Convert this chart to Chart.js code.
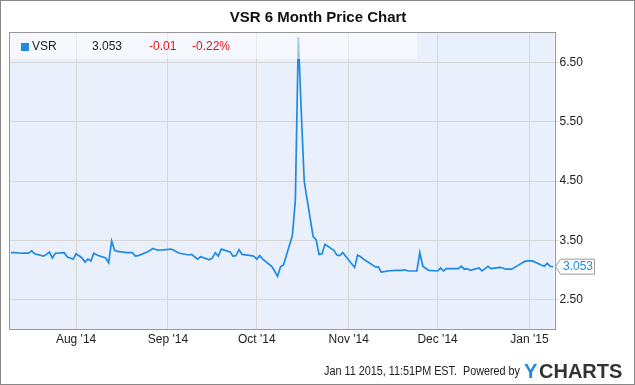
<!DOCTYPE html>
<html>
<head>
<meta charset="utf-8">
<script src="https://cdn.jsdelivr.net/npm/chart.js@4.4.1/dist/chart.umd.min.js"></script>
<style>
  html, body { margin: 0; padding: 0; background: #fff; }
  #wrap { width: 635px; height: 385px; }
</style>
</head>
<body>
<div id="wrap"><canvas id="vsrChart" width="635" height="385"></canvas></div>
<script>
// daily closes
const dates = [
  '2014-07-10','2014-07-11','2014-07-14','2014-07-15','2014-07-16','2014-07-17','2014-07-18',
  '2014-07-21','2014-07-22','2014-07-23','2014-07-24','2014-07-25','2014-07-28','2014-07-29',
  '2014-07-30','2014-07-31','2014-08-01','2014-08-03','2014-08-04','2014-08-05','2014-08-06',
  '2014-08-07','2014-08-08','2014-08-11','2014-08-12','2014-08-13','2014-08-14','2014-08-15',
  '2014-08-18','2014-08-19','2014-08-20','2014-08-21','2014-08-22','2014-08-25','2014-08-26',
  '2014-08-27','2014-08-28','2014-08-29','2014-09-02','2014-09-03','2014-09-04','2014-09-05',
  '2014-09-08','2014-09-09','2014-09-10','2014-09-11','2014-09-12','2014-09-15','2014-09-16',
  '2014-09-17','2014-09-18','2014-09-19','2014-09-22','2014-09-23','2014-09-24','2014-09-25',
  '2014-09-26','2014-09-29','2014-09-30','2014-10-01','2014-10-02','2014-10-03','2014-10-06',
  '2014-10-07','2014-10-08','2014-10-09','2014-10-10','2014-10-13','2014-10-14','2014-10-15',
  '2014-10-16','2014-10-17','2014-10-20','2014-10-21','2014-10-22','2014-10-23','2014-10-24',
  '2014-10-27','2014-10-28','2014-10-29','2014-10-30','2014-10-31','2014-11-03','2014-11-04',
  '2014-11-05','2014-11-06','2014-11-07','2014-11-10','2014-11-11','2014-11-12','2014-11-13',
  '2014-11-14','2014-11-17','2014-11-18','2014-11-19','2014-11-20','2014-11-21','2014-11-24',
  '2014-11-25','2014-11-26','2014-11-28','2014-12-01','2014-12-02','2014-12-03','2014-12-04',
  '2014-12-05','2014-12-08','2014-12-09','2014-12-10','2014-12-11','2014-12-12','2014-12-15',
  '2014-12-16','2014-12-17','2014-12-18','2014-12-19','2014-12-22','2014-12-23','2014-12-24',
  '2014-12-26','2014-12-29','2014-12-30','2014-12-31','2015-01-02','2015-01-05','2015-01-06',
  '2015-01-07','2015-01-08','2015-01-09'
];
const prices = [
  3.29, 3.29, 3.28, 3.28, 3.28, 3.32, 3.27,
  3.23, 3.26, 3.30, 3.20, 3.28, 3.29, 3.22,
  3.20, 3.18, 3.27, 3.20, 3.13, 3.18, 3.15,
  3.28, 3.25, 3.20, 3.12, 3.49, 3.33, 3.31,
  3.29, 3.29, 3.29, 3.23, 3.24, 3.30, 3.33,
  3.36, 3.34, 3.33, 3.35, 3.33, 3.30, 3.28,
  3.25, 3.26, 3.22, 3.18, 3.22, 3.17, 3.20,
  3.29, 3.23, 3.35, 3.30, 3.23, 3.24, 3.34,
  3.26, 3.24, 3.23, 3.18, 3.24, 3.18, 3.06,
  2.98, 2.89, 3.05, 3.08, 3.58, 4.18, 6.93,
  5.67, 4.49, 3.56, 3.51, 3.26, 3.27, 3.43,
  3.33, 3.25, 3.24, 3.29, 3.23, 3.04, 3.25,
  3.22, 3.18, 3.15, 3.05, 3.05, 2.96, 2.97,
  2.98, 2.99, 2.99, 2.99, 3.00, 2.98, 2.98,
  3.29, 3.06, 2.99, 2.98, 3.03, 2.98, 3.02,
  3.02, 3.02, 3.06, 3.01, 3.02, 2.99, 3.03,
  2.98, 3.02, 3.06, 3.02, 3.04, 3.03, 3.01,
  3.01, 3.10, 3.13, 3.15, 3.15, 3.08, 3.06,
  3.11, 3.06, 3.053
];
const monthTicks = ['2014-08-01','2014-09-01','2014-10-01','2014-11-01','2014-12-01','2015-01-01'];
const monthLabels = ["Aug '14", "Sep '14", "Oct '14", "Nov '14", "Dec '14", "Jan '15"];
const priceTicks = [2.5, 3.5, 4.5, 5.5, 6.5];
const lastPrice = '3.053';
const change = '-0.01';
const changePct = '-0.22%';

const FONT = '"Liberation Sans", Arial, sans-serif';
const BLUE = '#1c8ae6';
const day = s => Date.parse(s) / 86400000;

const points = dates.map((d, i) => ({ x: day(d), y: prices[i] }));

const decor = {
  id: 'decor',
  beforeDraw(chart) {
    const { ctx, chartArea: a } = chart;
    ctx.save();
    ctx.fillStyle = '#fff';
    ctx.fillRect(0, 0, chart.width, chart.height);
    ctx.fillStyle = '#eaf0fb';
    ctx.fillRect(a.left, a.top, a.right - a.left, a.bottom - a.top);
    ctx.restore();
  },
  afterDatasetsDraw(chart) {
    const { ctx, chartArea: a } = chart;
    ctx.save();
    // legend strip
    ctx.fillStyle = 'rgba(255,255,255,0.55)';
    ctx.fillRect(a.left, a.top, 407, 26);
    ctx.fillStyle = BLUE;
    ctx.fillRect(21, 43, 8, 8);
    ctx.font = '12px ' + FONT;
    ctx.textBaseline = 'middle';
    ctx.fillStyle = '#222';
    ctx.fillText('VSR', 32, 47);
    ctx.fillText(lastPrice, 92, 47);
    ctx.fillStyle = '#e8101a';
    ctx.fillText(change, 149, 47);
    ctx.fillText(changePct, 192, 47);
    // plot frame
    ctx.strokeStyle = '#999';
    ctx.lineWidth = 1;
    ctx.strokeRect(Math.round(a.left) - 0.5, Math.round(a.top) - 0.5,
      Math.round(a.right - a.left) + 1, Math.round(a.bottom - a.top) + 1);
    // last price tag
    const y = chart.scales.y.getPixelForValue(prices[prices.length - 1]);
    const r = Math.round(a.right);
    ctx.beginPath();
    ctx.moveTo(r + 0.5, y);
    ctx.lineTo(r + 5.5, y - 7.5);
    ctx.lineTo(r + 39.5, y - 7.5);
    ctx.lineTo(r + 39.5, y + 7.5);
    ctx.lineTo(r + 5.5, y + 7.5);
    ctx.closePath();
    ctx.fillStyle = '#fff';
    ctx.fill();
    ctx.strokeStyle = '#999';
    ctx.stroke();
    ctx.fillStyle = BLUE;
    ctx.fillText(lastPrice, r + 8, y + 0.5);
    ctx.restore();
  },
  afterDraw(chart) {
    const { ctx } = chart;
    ctx.save();
    ctx.textBaseline = 'middle';
    ctx.fillStyle = '#111';
    ctx.font = 'bold 15px ' + FONT;
    ctx.textAlign = 'center';
    ctx.fillText('VSR 6 Month Price Chart', 318, 18);
    // footer, slightly condensed like the original
    ctx.save();
    ctx.translate(520, 372);
    ctx.scale(0.9, 1);
    ctx.textAlign = 'right';
    ctx.font = '12px ' + FONT;
    ctx.fillStyle = '#222';
    ctx.fillText('Jan 11 2015, 11:51PM EST.  Powered by', 0, 0);
    ctx.restore();
    ctx.textAlign = 'left';
    ctx.font = 'bold 20px ' + FONT;
    ctx.fillStyle = BLUE;
    ctx.fillText('Y', 524, 372);
    ctx.fillStyle = '#333';
    ctx.fillText('CHARTS', 539, 372);
    ctx.strokeStyle = '#888';
    ctx.strokeRect(0.5, 0.5, chart.width - 1, chart.height - 1);
    ctx.restore();
  }
};

new Chart('vsrChart', {
  type: 'line',
  data: {
    datasets: [{
      label: 'VSR',
      data: points,
      borderColor: BLUE,
      borderWidth: 1.7,
      pointRadius: 0,
      tension: 0,
      fill: false
    }]
  },
  options: {
    responsive: false,
    devicePixelRatio: 1,
    animation: false,
    layout: { padding: { left: 10, right: 0, top: 33, bottom: 36 } },
    plugins: { legend: { display: false }, title: { display: false }, tooltip: { enabled: false } },
    scales: {
      x: {
        type: 'linear',
        min: day(dates[0]) - 0.3,
        max: day(dates[dates.length - 1]) + 0.45,
        afterBuildTicks: s => { s.ticks = monthTicks.map(m => ({ value: day(m) })); },
        afterFit: s => { s.height = 20; },
        ticks: {
          autoSkip: false, maxRotation: 0, padding: 3,
          color: '#222', font: { family: FONT, size: 12 },
          callback: (v, i) => monthLabels[i]
        },
        grid: { color: '#d6d6d6', drawTicks: false },
        border: { display: false }
      },
      y: {
        position: 'right',
        min: 2, max: 7,
        afterBuildTicks: s => { s.ticks = priceTicks.map(v => ({ value: v })); },
        afterFit: s => { s.width = 80.5; },
        ticks: {
          padding: 1,
          color: '#222', font: { family: FONT, size: 12 },
          callback: v => v.toFixed(2)
        },
        grid: { color: '#d6d6d6', tickLength: 4 },
        border: { display: false }
      }
    }
  },
  plugins: [decor]
});
</script>
</body>
</html>
